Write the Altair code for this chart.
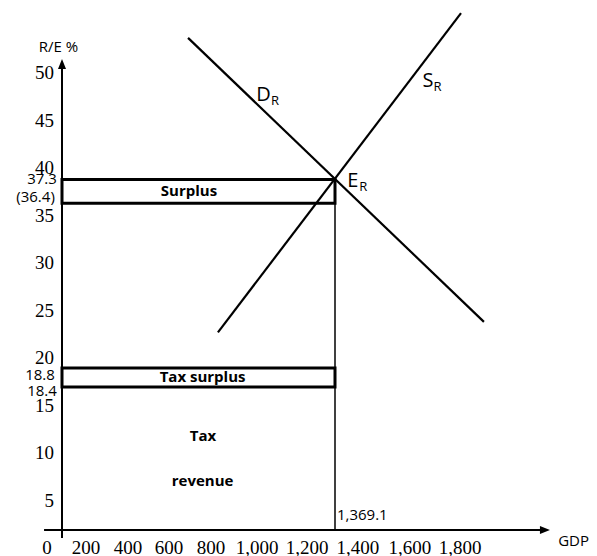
import altair as alt
import pandas as pd

# ---------------- values ----------------
equilibrium_gdp = 1369.1

demand_gdp = [632, 2116]
demand_pct = [53.7, 23.8]
supply_gdp = [782, 2001]
supply_pct = [22.7, 56.3]

surplus_pct = [36.3, 38.8]          # bottom, top of the "Surplus" box
tax_surplus_pct = [16.95, 18.95]    # bottom, top of the "Tax surplus" box

y_ticks = [50, 45, 40, 35, 30, 25, 20, 15, 10, 5]
y_marked_labels = ["37.3", "(36.4)", "18.8", "18.4"]
y_marked_pct = [38.84, 36.95, 18.2, 16.53]

x_tick_labels = ["0", "200", "400", "600", "800", "1,000", "1,200", "1,400", "1,600", "1,800"]
x_tick_gdp = [-75, 120, 331, 537, 747, 978, 1229, 1484, 1745, 1996]

# ---------------- scales ----------------
W, H = 581, 548
px_per_gdp = 273 / equilibrium_gdp
px_per_pct = 9.5
x_domain = [-54 / px_per_gdp, (W - 54) / px_per_gdp]
xs = alt.Scale(domain=x_domain, nice=False, zero=False)
ys = alt.Scale(domain=[(540 - H) / px_per_pct, 540 / px_per_pct], nice=False, zero=False)


def X(f="g"):
    return alt.X(f"{f}:Q", scale=xs, axis=None)


def Y(f="v"):
    return alt.Y(f"{f}:Q", scale=ys, axis=None)


SANS = "Open Sans"
SERIF = "Liberation Serif"

# ---------------- axes with arrows ----------------
y_axis = alt.Chart(pd.DataFrame({"g": [0], "v": [1.05], "v2": [50.42]})).mark_rule(
    color="black", strokeWidth=2).encode(x=X(), y=Y(), y2=alt.Y2("v2:Q"))
x_axis = alt.Chart(pd.DataFrame({"g": [-90], "g2": [2402], "v": [1.89]})).mark_rule(
    color="black", strokeWidth=2).encode(x=X(), x2=alt.X2("g2:Q"), y=Y())
y_arrow = alt.Chart(pd.DataFrame({"g": [0], "v": [50.95]})).mark_point(
    shape="M0,-1L0.8,1L-0.8,1Z", size=100, filled=True, color="black", opacity=1,
    strokeWidth=0).encode(x=X(), y=Y())
x_arrow = alt.Chart(pd.DataFrame({"g": [2422], "v": [1.89]})).mark_point(
    shape="M1,0L-1,0.8L-1,-0.8Z", size=100, filled=True, color="black", opacity=1,
    strokeWidth=0).encode(x=X(), y=Y())

# ---------------- demand / supply ----------------
curves = pd.DataFrame({
    "curve": ["D"] * 2 + ["S"] * 2,
    "g": demand_gdp + supply_gdp,
    "v": demand_pct + supply_pct,
})
curve_lines = alt.Chart(curves).mark_line(color="black", strokeWidth=2.2).encode(
    x=X(), y=Y(), detail="curve:N")

eq_rule = alt.Chart(pd.DataFrame({"g": [equilibrium_gdp], "v": [1.89], "v2": [surplus_pct[1]]})).mark_rule(
    color="black", strokeWidth=1.5).encode(x=X(), y=Y(), y2=alt.Y2("v2:Q"))

boxes = alt.Chart(pd.DataFrame({
    "g": [0, 0], "g2": [equilibrium_gdp, equilibrium_gdp],
    "v": [surplus_pct[0], tax_surplus_pct[0]], "v2": [surplus_pct[1], tax_surplus_pct[1]],
})).mark_rect(fillOpacity=0, stroke="black", strokeWidth=3).encode(
    x=X(), x2=alt.X2("g2:Q"), y=Y(), y2=alt.Y2("v2:Q"))

# ---------------- tick labels ----------------
y_tick_text = alt.Chart(pd.DataFrame({"g": [-40] * len(y_ticks), "v": y_ticks,
                                      "t": [str(t) for t in y_ticks]})).mark_text(
    font=SERIF, fontSize=19, align="right", baseline="middle", color="black").encode(
    x=X(), y=Y(), text="t:N")
y_marked_text = alt.Chart(pd.DataFrame({"g": [-26, -36, -36, -26], "v": y_marked_pct,
                                        "t": y_marked_labels})).mark_text(
    font=SANS, fontSize=15, align="right", baseline="middle", color="black").encode(
    x=X(), y=Y(), text="t:N")
x_tick_text = alt.Chart(pd.DataFrame({"g": x_tick_gdp, "v": [0] * len(x_tick_gdp),
                                      "t": x_tick_labels})).mark_text(
    font=SERIF, fontSize=19, align="center", baseline="middle", color="black").encode(
    x=X(), y=Y(), text="t:N")

# ---------------- annotations ----------------
plain_text = alt.Chart(pd.DataFrame({"t": ["R/E %"], "g": [-17.6], "v": [52.74]})).mark_text(
    font=SANS, fontSize=15, align="center", baseline="middle", color="black").encode(
    x=X(), y=Y(), text="t:N")
gdp_text = alt.Chart(pd.DataFrame({"t": ["GDP"], "g": [x_domain[1]], "v": [0.74]})).mark_text(
    font=SANS, fontSize=15, align="right", baseline="middle", color="black").encode(
    x=X(), y=Y(), text="t:N")
eq_text = alt.Chart(pd.DataFrame({"t": ["1,369.1"], "g": [1379], "v": [3.47]})).mark_text(
    font=SANS, fontSize=15, align="left", baseline="middle", color="black").encode(
    x=X(), y=Y(), text="t:N")
bold = pd.DataFrame({"t": ["Surplus", "Tax surplus", "Tax", "revenue"],
                     "g": [637, 705, 707, 705], "v": [37.53, 18.0, 11.79, 7.05]})
bold_text = alt.Chart(bold).mark_text(font=SANS, fontSize=15, fontWeight="bold", align="center",
                                      baseline="middle", color="black").encode(
    x=X(), y=Y(), text="t:N")
big = pd.DataFrame({"t": ["D", "S", "E"], "g": [1010, 1835, 1459], "v": [47.68, 49.16, 38.63]})
big_text = alt.Chart(big).mark_text(font=SANS, fontSize=20, align="center",
                                    baseline="middle", color="black").encode(
    x=X(), y=Y(), text="t:N")
sub = pd.DataFrame({"t": ["R", "R", "R"], "g": [1068, 1883, 1511], "v": [47.1, 48.5, 38.05]})
sub_text = alt.Chart(sub).mark_text(font=SANS, fontSize=13, align="center",
                                    baseline="middle", color="black").encode(
    x=X(), y=Y(), text="t:N")

chart = alt.layer(
    boxes, eq_rule, curve_lines, y_axis, x_axis, y_arrow, x_arrow,
    y_tick_text, y_marked_text, x_tick_text, plain_text, gdp_text, eq_text, bold_text,
    big_text, sub_text,
).properties(
    width=W, height=H, padding=0, autosize=alt.AutoSizeParams(type="none"),
    background="white",
).configure_view(strokeWidth=0)

chart.save("out.html", embed_options={"renderer": "svg", "actions": False})
